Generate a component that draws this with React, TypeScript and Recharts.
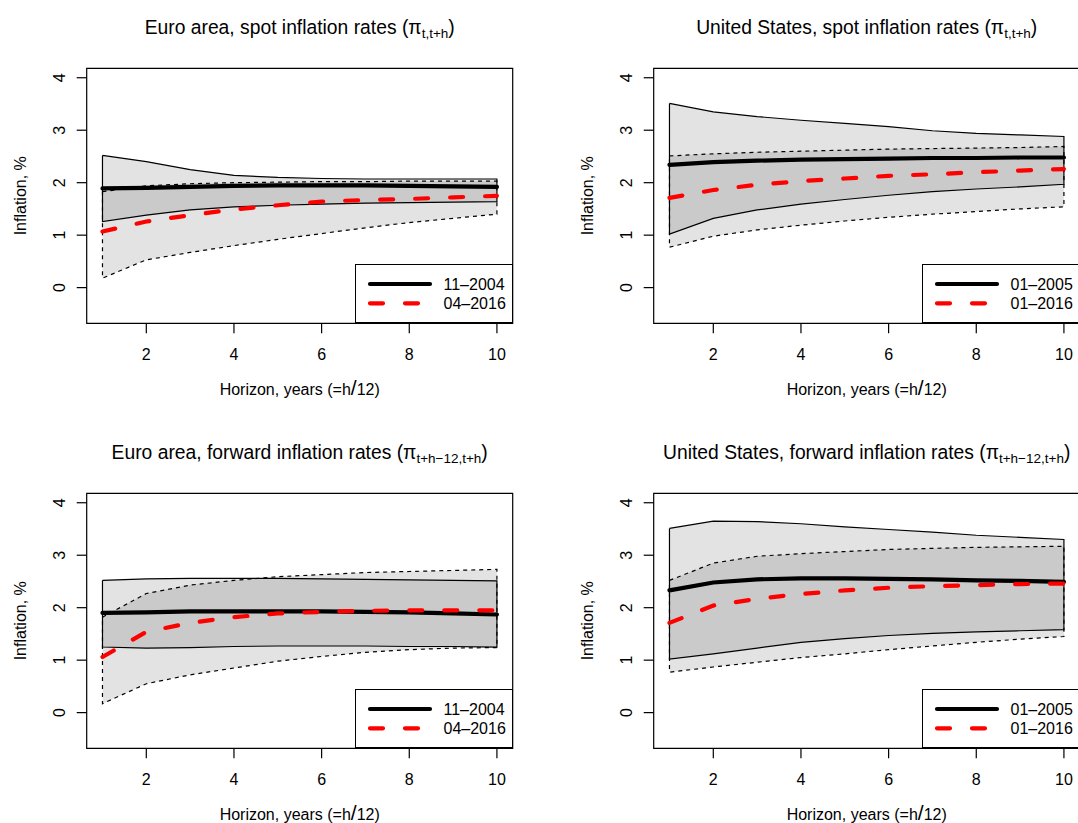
import { ComposedChart, Area, Line, XAxis, YAxis, ReferenceArea, Legend } from "recharts";

const HORIZON = [1, 2, 3, 4, 5, 6, 7, 8, 9, 10];
const X_TICKS = [2, 4, 6, 8, 10];
const Y_TICKS = [0, 1, 2, 3, 4];

// Euro area, spot
const EA_SPOT_OLD_HI = [2.52, 2.4, 2.25, 2.14, 2.1, 2.08, 2.07, 2.07, 2.07, 2.07];
const EA_SPOT_OLD_LO = [1.26, 1.38, 1.48, 1.54, 1.57, 1.59, 1.61, 1.62, 1.63, 1.64];
const EA_SPOT_OLD_MID = [1.89, 1.9, 1.92, 1.94, 1.95, 1.95, 1.95, 1.94, 1.93, 1.92];
const EA_SPOT_NEW_HI = [1.83, 1.94, 1.98, 2.0, 2.01, 2.02, 2.02, 2.03, 2.03, 2.03];
const EA_SPOT_NEW_LO = [0.18, 0.53, 0.67, 0.8, 0.92, 1.03, 1.14, 1.24, 1.32, 1.4];
const EA_SPOT_NEW_MID = [1.07, 1.26, 1.38, 1.49, 1.57, 1.64, 1.67, 1.69, 1.72, 1.75];

// United States, spot
const US_SPOT_OLD_HI = [3.51, 3.35, 3.26, 3.19, 3.13, 3.07, 2.99, 2.94, 2.91, 2.88];
const US_SPOT_OLD_LO = [1.02, 1.32, 1.48, 1.59, 1.68, 1.76, 1.83, 1.88, 1.92, 1.97];
const US_SPOT_OLD_MID = [2.34, 2.39, 2.42, 2.44, 2.45, 2.46, 2.47, 2.47, 2.48, 2.48];
const US_SPOT_NEW_HI = [2.51, 2.55, 2.58, 2.6, 2.62, 2.64, 2.65, 2.66, 2.67, 2.69];
const US_SPOT_NEW_LO = [0.77, 0.98, 1.1, 1.19, 1.27, 1.34, 1.4, 1.45, 1.5, 1.54];
const US_SPOT_NEW_MID = [1.71, 1.86, 1.96, 2.03, 2.08, 2.13, 2.16, 2.2, 2.23, 2.26];

// Euro area, forward
const EA_FWD_OLD_HI = [2.52, 2.55, 2.56, 2.56, 2.56, 2.55, 2.54, 2.53, 2.52, 2.51];
const EA_FWD_OLD_LO = [1.25, 1.23, 1.24, 1.26, 1.27, 1.27, 1.27, 1.26, 1.26, 1.25];
const EA_FWD_OLD_MID = [1.9, 1.91, 1.93, 1.93, 1.93, 1.93, 1.92, 1.91, 1.89, 1.87];
const EA_FWD_NEW_HI = [1.82, 2.27, 2.43, 2.52, 2.59, 2.63, 2.67, 2.69, 2.71, 2.73];
const EA_FWD_NEW_LO = [0.17, 0.55, 0.72, 0.85, 0.98, 1.07, 1.15, 1.2, 1.23, 1.24];
const EA_FWD_NEW_MID = [1.06, 1.54, 1.71, 1.82, 1.89, 1.92, 1.94, 1.95, 1.95, 1.95];

// United States, forward
const US_FWD_OLD_HI = [3.51, 3.65, 3.64, 3.6, 3.54, 3.49, 3.44, 3.38, 3.34, 3.3];
const US_FWD_OLD_LO = [1.02, 1.12, 1.23, 1.34, 1.41, 1.47, 1.51, 1.54, 1.56, 1.58];
const US_FWD_OLD_MID = [2.33, 2.48, 2.54, 2.56, 2.56, 2.55, 2.54, 2.52, 2.51, 2.49];
const US_FWD_NEW_HI = [2.52, 2.85, 2.98, 3.03, 3.07, 3.11, 3.13, 3.15, 3.16, 3.17];
const US_FWD_NEW_LO = [0.77, 0.87, 0.96, 1.05, 1.12, 1.2, 1.27, 1.34, 1.4, 1.45];
const US_FWD_NEW_MID = [1.71, 2.04, 2.17, 2.26, 2.33, 2.38, 2.41, 2.43, 2.45, 2.46];

const EA_DATES = ["11\u20132004", "04\u20132016"];
const US_DATES = ["01\u20132005", "01\u20132016"];

const FONT = "'Liberation Sans', Arial, Helvetica, sans-serif";
const PANEL_W = 567.3;
const PANEL_H = 425;
const PLOT = { left: 86.7, top: 68.3, width: 426, height: 255 };
const X_DOMAIN = [0.64, 10.36];
const Y_DOMAIN = [-0.68, 4.18];
const BAND_FILL = "#000";
const BAND_OPACITY = 0.11;

const ring = (lo: number[], hi: number[]) => [
  ...HORIZON.map((x, i) => ({ x, y: hi[i] })),
  ...HORIZON.map((x, i) => ({ x, y: lo[i] })).reverse(),
  { x: HORIZON[0], y: hi[0] },
];

const panels = [
  { title: "Euro area, spot inflation rates (", sub: "t,t+h", col: 0, row: 0, dates: EA_DATES,
    oldLo: EA_SPOT_OLD_LO, oldHi: EA_SPOT_OLD_HI, oldMid: EA_SPOT_OLD_MID,
    newLo: EA_SPOT_NEW_LO, newHi: EA_SPOT_NEW_HI, newMid: EA_SPOT_NEW_MID },
  { title: "United States, spot inflation rates (", sub: "t,t+h", col: 1, row: 0, dates: US_DATES,
    oldLo: US_SPOT_OLD_LO, oldHi: US_SPOT_OLD_HI, oldMid: US_SPOT_OLD_MID,
    newLo: US_SPOT_NEW_LO, newHi: US_SPOT_NEW_HI, newMid: US_SPOT_NEW_MID },
  { title: "Euro area, forward inflation rates (", sub: "t+h\u221212,t+h", col: 0, row: 1, dates: EA_DATES,
    oldLo: EA_FWD_OLD_LO, oldHi: EA_FWD_OLD_HI, oldMid: EA_FWD_OLD_MID,
    newLo: EA_FWD_NEW_LO, newHi: EA_FWD_NEW_HI, newMid: EA_FWD_NEW_MID },
  { title: "United States, forward inflation rates (", sub: "t+h\u221212,t+h", col: 1, row: 1, dates: US_DATES,
    oldLo: US_FWD_OLD_LO, oldHi: US_FWD_OLD_HI, oldMid: US_FWD_OLD_MID,
    newLo: US_FWD_NEW_LO, newHi: US_FWD_NEW_HI, newMid: US_FWD_NEW_MID },
];

const XTick = ({ x, payload }: any) => (
  <text x={x} y={360} textAnchor="middle" fontSize={16} fill="#000">{payload.value}</text>
);

const YTick = ({ y, payload }: any) => (
  <text x={65.4} y={y} transform={`rotate(-90 65.4 ${y})`} textAnchor="middle" fontSize={16} fill="#000">
    {payload.value}
  </text>
);

function LegendBox({ labels }: { labels: string[] }) {
  return (
    <div style={{ width: 157.7, height: 59, boxSizing: "border-box", border: "1.2px solid #000", background: "#fff" }}>
      <svg width={156} height={57} style={{ display: "block" }}>
        <line x1={14} x2={74} y1={19} y2={19} stroke="#000" strokeWidth={4.2} strokeLinecap="round" />
        <line x1={14} x2={74} y1={38.3} y2={38.3} stroke="#ff0000" strokeWidth={4.2} strokeLinecap="round" strokeDasharray="13 22" />
        <text x={87.5} y={24.8} fontSize={16} fontFamily={FONT}>{labels[0]}</text>
        <text x={87.5} y={44.2} fontSize={16} fontFamily={FONT}>{labels[1]}</text>
      </svg>
    </div>
  );
}

function Panel({ p }: { p: (typeof panels)[number] }) {
  const table = HORIZON.map((x, i) => ({
    x,
    oldBand: [p.oldLo[i], p.oldHi[i]],
    newBand: [p.newLo[i], p.newHi[i]],
    oldMid: p.oldMid[i],
    newMid: p.newMid[i],
  }));
  const cx = PLOT.left + PLOT.width / 2;
  const cy = PLOT.top + PLOT.height / 2;
  return (
    <div style={{ position: "absolute", left: p.col * PANEL_W, top: p.row * PANEL_H }}>
      <ComposedChart
        width={567}
        height={PANEL_H}
        data={table}
        margin={{ top: PLOT.top, left: PLOT.left - 40, right: 567 - PLOT.left - PLOT.width, bottom: PANEL_H - PLOT.top - PLOT.height - 40 }}
        style={{ fontFamily: FONT }}
      >
        <XAxis dataKey="x" type="number" domain={X_DOMAIN} allowDataOverflow ticks={X_TICKS} height={40}
          axisLine={false} tickSize={10} tickLine={{ stroke: "#000", strokeWidth: 1.2 }} tick={<XTick />} interval={0} />
        <YAxis type="number" domain={Y_DOMAIN} allowDataOverflow ticks={Y_TICKS} width={40}
          axisLine={false} tickSize={10} tickLine={{ stroke: "#000", strokeWidth: 1.2 }} tick={<YTick />} interval={0} />
        <Area dataKey="oldBand" type="linear" stroke="none" fill={BAND_FILL} fillOpacity={BAND_OPACITY} isAnimationActive={false} />
        <Area dataKey="newBand" type="linear" stroke="none" fill={BAND_FILL} fillOpacity={BAND_OPACITY} isAnimationActive={false} />
        <Line data={ring(p.oldLo, p.oldHi)} dataKey="y" type="linear" stroke="#000" strokeWidth={1.2} dot={false} activeDot={false} isAnimationActive={false} />
        <Line data={ring(p.newLo, p.newHi)} dataKey="y" type="linear" stroke="#000" strokeWidth={1.2} strokeDasharray="4 4" dot={false} activeDot={false} isAnimationActive={false} />
        <Line dataKey="oldMid" type="linear" stroke="#000" strokeWidth={4.2} strokeLinecap="round" dot={false} activeDot={false} isAnimationActive={false} />
        <Line dataKey="newMid" type="linear" stroke="#ff0000" strokeWidth={4.2} strokeLinecap="round" strokeDasharray="13 22" dot={false} activeDot={false} isAnimationActive={false} />
        <ReferenceArea x1={X_DOMAIN[0]} x2={X_DOMAIN[1]} y1={Y_DOMAIN[0]} y2={Y_DOMAIN[1]} fill="none" stroke="#000" strokeWidth={1.2} ifOverflow="visible" />
        <text x={cx} y={33.5} textAnchor="middle" fontSize={19.3} fill="#000">
          {p.title}π<tspan fontSize={13.5} dy={4.5}>{p.sub}</tspan><tspan dy={-4.5}>)</tspan>
        </text>
        <text x={cx} y={395} textAnchor="middle" fontSize={16} fill="#000">
          Horizon, years (=h<tspan fontSize={21}>/</tspan>12)
        </text>
        <text x={25.8} y={cy} transform={`rotate(-90 25.8 ${cy})`} textAnchor="middle" fontSize={16} fill="#000">Inflation, %</text>
        <Legend layout="horizontal" verticalAlign="middle" align="center"
          wrapperStyle={{ left: 355, top: 264.3, width: 157.7, height: 59, margin: 0, padding: 0 }}
          content={() => <LegendBox labels={p.dates} />} />
      </ComposedChart>
    </div>
  );
}

export default function App() {
  return (
    <div style={{ position: "absolute", left: 0, top: 0, width: 1078, height: 823, overflow: "hidden", background: "#fff", fontFamily: FONT }}>
      {panels.map((p) => (
        <Panel key={p.title} p={p} />
      ))}
    </div>
  );
}
